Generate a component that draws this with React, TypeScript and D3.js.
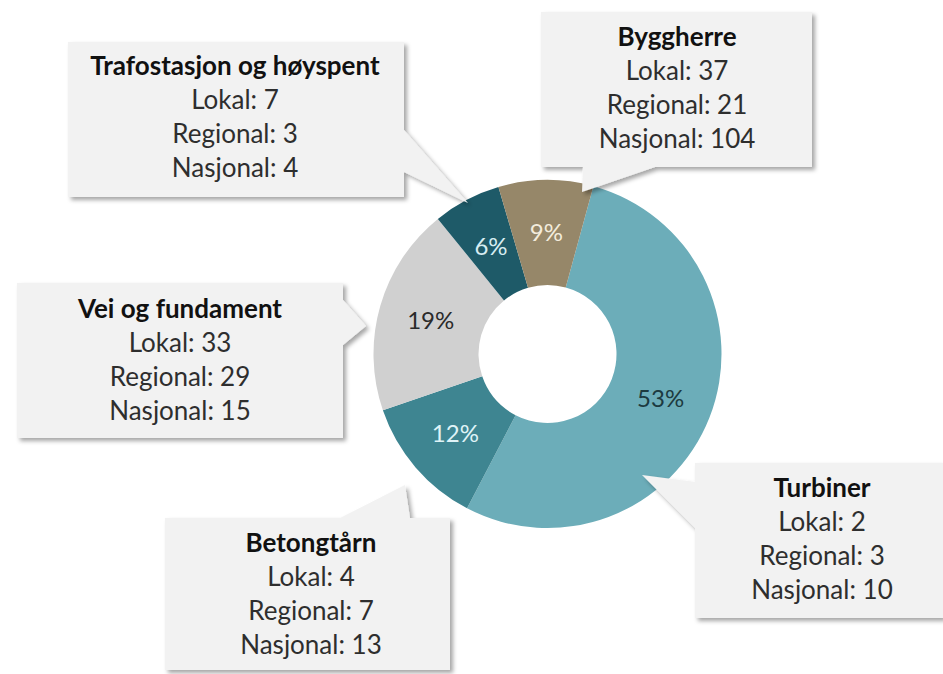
import React from "react";
import * as d3 from "d3";

const categories = ["Turbiner", "Betongtårn", "Vei og fundament", "Trafostasjon og høyspent", "Byggherre"];
const shares = [53.4, 12.1, 19.4, 6.3, 8.8];
const lokal = [2, 4, 33, 7, 37];
const regional = [3, 7, 29, 3, 21];
const nasjonal = [10, 13, 15, 4, 104];
const colors = ["#6cadb9", "#3e8591", "#d0d0d0", "#1e5a68", "#968769"];
const labelColors = ["#1c3a40", "#dff3f7", "#2a2a2a", "#d6edf2", "#f3ecdc"];

// callout geometry: box [x0,y0,x1,y1], tail points, text center x, first baseline
type Callout = { box: number[]; edge: string; tail: number[][]; cx: number; y0: number };
const callouts: Callout[] = [
  { box: [695, 463, 943, 618], edge: "left", tail: [[695, 528], [642, 475], [695, 482]], cx: 822, y0: 497 },
  { box: [165, 518, 450, 670], edge: "top", tail: [[340, 518], [405, 485], [410, 518]], cx: 311, y0: 552 },
  { box: [17, 283, 343, 438], edge: "right", tail: [[343, 300], [366, 326], [343, 345]], cx: 180, y0: 318 },
  { box: [68, 42, 404, 197], edge: "right", tail: [[404, 130], [468, 203], [404, 172]], cx: 235, y0: 75 },
  { box: [541, 12, 812, 167], edge: "bottom", tail: [[655, 167], [582, 192], [583, 167]], cx: 677, y0: 46 },
];

function calloutPath(c: Callout): string {
  const [x0, y0, x1, y1] = c.box;
  const p = d3.path();
  const t = c.tail;
  p.moveTo(x0, y0);
  if (c.edge === "top") t.forEach(([x, y]) => p.lineTo(x, y));
  p.lineTo(x1, y0);
  if (c.edge === "right") t.forEach(([x, y]) => p.lineTo(x, y));
  p.lineTo(x1, y1);
  if (c.edge === "bottom") t.forEach(([x, y]) => p.lineTo(x, y));
  p.lineTo(x0, y1);
  if (c.edge === "left") t.forEach(([x, y]) => p.lineTo(x, y));
  p.closePath();
  return p.toString();
}

export default function App() {
  const W = 943, H = 674;
  const cx = 547.5, cy = 354;
  const outer = 174, inner = 69;
  const start = (15.3 * Math.PI) / 180;
  const pie = d3.pie<number>().sort(null).value((d) => d).startAngle(start).endAngle(start + 2 * Math.PI);
  const arcs = pie(shares);
  const arc = d3.arc<d3.PieArcDatum<number>>().innerRadius(inner).outerRadius(outer);
  const total = d3.sum(shares);
  const font = "Lato, 'Open Sans', sans-serif";
  const lh = 34;

  return (
    <svg width={W} height={H} style={{ position: "absolute", left: 0, top: 0 }} fontFamily={font}>
      <defs>
        <filter id="sh" x="-10%" y="-10%" width="130%" height="130%">
          <feDropShadow dx="3" dy="3" stdDeviation="2" floodColor="#000" floodOpacity="0.35" />
        </filter>
      </defs>
      <rect width={W} height={H} fill="#ffffff" />
      <g transform={`translate(${cx},${cy})`}>
        {arcs.map((a, i) => (
          <path key={i} d={arc(a) || ""} fill={colors[i]} />
        ))}
        {arcs.map((a, i) => {
          const [x, y] = arc.centroid(a);
          return (
            <text key={i} x={x} y={y} dy="0.36em" textAnchor="middle" fontSize={24} fill={labelColors[i]}>
              {Math.round((shares[i] / total) * 100)}%
            </text>
          );
        })}
      </g>
      {callouts.map((c, i) => (
        <g key={i}>
          <path d={calloutPath(c)} fill="#f2f2f2" filter="url(#sh)" />
          <text x={c.cx} y={c.y0} textAnchor="middle" fontSize={26} fontWeight="bold" fill="#111">
            {categories[i]}
          </text>
          <text x={c.cx} y={c.y0 + lh} textAnchor="middle" fontSize={26} fill="#2e2e2e">
            Lokal: {lokal[i]}
          </text>
          <text x={c.cx} y={c.y0 + 2 * lh} textAnchor="middle" fontSize={26} fill="#2e2e2e">
            Regional: {regional[i]}
          </text>
          <text x={c.cx} y={c.y0 + 3 * lh} textAnchor="middle" fontSize={26} fill="#2e2e2e">
            Nasjonal: {nasjonal[i]}
          </text>
        </g>
      ))}
    </svg>
  );
}
